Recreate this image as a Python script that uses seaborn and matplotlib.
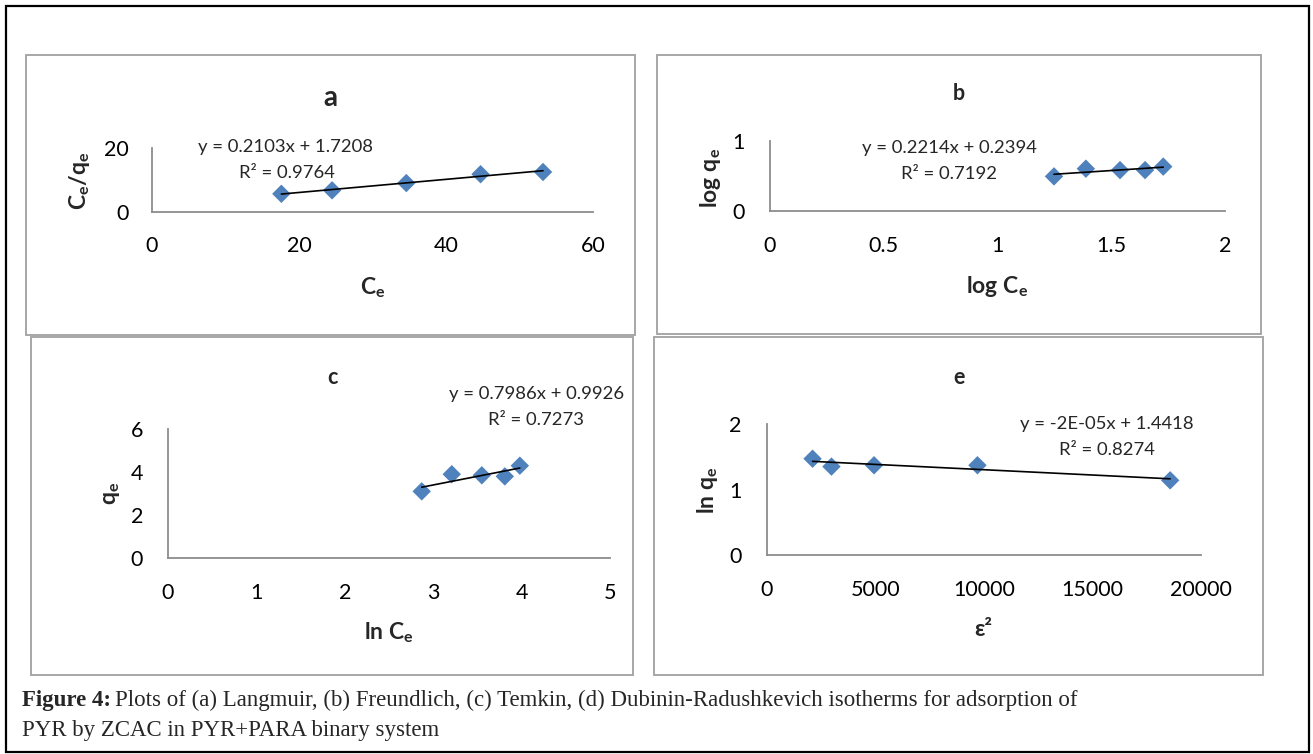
import numpy as np
import pandas as pd
import matplotlib
matplotlib.use("Agg")
import matplotlib.pyplot as plt
from matplotlib.patches import Rectangle
import seaborn as sns

# ---------------- data ----------------
a_ce = [17.6, 24.5, 34.6, 44.7, 53.2]
a_ce_qe = [5.6, 6.7, 9.0, 11.8, 12.5]

b_log_ce = [1.25, 1.39, 1.54, 1.65, 1.73]
b_log_qe = [0.49, 0.60, 0.58, 0.58, 0.63]

c_ln_ce = [2.87, 3.21, 3.55, 3.81, 3.98]
c_qe = [3.1, 3.9, 3.85, 3.8, 4.3]

e_eps2 = [2120, 2990, 4950, 9710, 18580]
e_ln_qe = [1.47, 1.35, 1.37, 1.37, 1.14]

a_xticks = [0, 20, 40, 60]
a_yticks = [0, 20]
b_xticks = [0, 0.5, 1, 1.5, 2]
b_yticks = [0, 1]
c_xticks = [0, 1, 2, 3, 4, 5]
c_yticks = [0, 2, 4, 6]
e_xticks = [0, 5000, 10000, 15000, 20000]
e_yticks = [0, 1, 2]

titles = ["a", "b", "c", "e"]
equations = [("y = 0.2103x + 1.7208", "R² = 0.9764"),
             ("y = 0.2214x + 0.2394", "R² = 0.7192"),
             ("y = 0.7986x + 0.9926", "R² = 0.7273"),
             ("y = -2E-05x + 1.4418", "R² = 0.8274")]
xlabels = [r"$\mathbf{C_e}$", r"$\mathbf{log\ C_e}$", r"$\mathbf{ln\ C_e}$", "ε²"]
ylabels = [r"$\mathbf{C_e/q_e}$", r"$\mathbf{log\ q_e}$", r"$\mathbf{q_e}$", r"$\mathbf{ln\ q_e}$"]
caption_bold = "Figure 4:"
caption_1 = "Plots of (a) Langmuir, (b) Freundlich, (c) Temkin, (d) Dubinin-Radushkevich isotherms for adsorption of"
caption_2 = "PYR by ZCAC in PYR+PARA binary system"

# ---------------- style ----------------
sns.set_theme(style="white")
plt.rcParams["font.family"] = ["Lato", "DejaVu Sans"]
plt.rcParams["mathtext.fontset"] = "custom"
plt.rcParams["mathtext.rm"] = "Lato"
plt.rcParams["mathtext.bf"] = "Lato:bold"
plt.rcParams["mathtext.it"] = "Lato:italic"
plt.rcParams["mathtext.sf"] = "Lato"

W, H = 1313, 754
fig = plt.figure(figsize=(W / 100, H / 100), dpi=100)
fig.patch.set_facecolor("white")


def fx(px):
    return px / W


def fy(py):
    return 1 - py / H


def add_box(x0, y0, x1, y1, color, lw):
    fig.add_artist(Rectangle((fx(x0), fy(y1)), fx(x1) - fx(x0), fy(y0) - fy(y1),
                             transform=fig.transFigure, fill=False,
                             edgecolor=color, linewidth=lw))


# outer border
add_box(6, 6, 1309, 752, "black", 1.6)

BLUE = "#4F81BD"
GRAY = "#8C8C8C"
BOXGRAY = "#A0A0A0"

panels = [
    dict(box=(26, 55, 635, 335), ax=(152, 593, 211.5, 148.3),
         x=a_ce, y=a_ce_qe, xt=a_xticks, yt=a_yticks, ticks=True,
         title_y=98, title_size=20,
         eq=(286, 147, 287, 173), xl=(372.5, 288), yl=(80, 181)),
    dict(box=(657, 55, 1261, 334), ax=(769.5, 1224.7, 210.7, 140.7),
         x=b_log_ce, y=b_log_qe, xt=b_xticks, yt=b_yticks, ticks=False,
         title_y=93, title_size=15.5,
         eq=(949, 148, 949, 174), xl=(997, 287), yl=(711, 178)),
    dict(box=(31, 337, 633, 675), ax=(168, 610, 557.7, 429.3),
         x=c_ln_ce, y=c_qe, xt=c_xticks, yt=c_yticks, ticks=False,
         title_y=377, title_size=15.5,
         eq=(536.5, 394, 536, 420), xl=(389, 633), yl=(111, 493)),
    dict(box=(654, 337, 1263, 675), ax=(766.5, 1201, 555, 424),
         x=e_eps2, y=e_ln_qe, xt=e_xticks, yt=e_yticks, ticks=False,
         title_y=377, title_size=15.5,
         eq=(1107, 424, 1106.5, 450), xl=(983.7, 630), yl=(707, 490)),
]

for i, p in enumerate(panels):
    bx0, by0, bx1, by1 = p["box"]
    add_box(bx0, by0, bx1, by1, BOXGRAY, 1.3)
    x0, x1, y0, y1 = p["ax"]
    ax = fig.add_axes([fx(x0), fy(y0), fx(x1) - fx(x0), fy(y1) - fy(y0)])
    ax.set_facecolor("none")
    df = pd.DataFrame({"x": p["x"], "y": p["y"]})
    sns.regplot(data=df, x="x", y="y", ax=ax, ci=None, marker="D",
                scatter_kws=dict(s=88, color=BLUE, edgecolors="none", alpha=1, clip_on=False),
                line_kws=dict(color="black", lw=1.2))
    ax.set_xlim(p["xt"][0], p["xt"][-1])
    ax.set_ylim(p["yt"][0], p["yt"][-1])
    ax.set_xticks(p["xt"])
    ax.set_yticks(p["yt"])
    ax.set_xticklabels([f"{v:g}" for v in p["xt"]])
    ax.set_yticklabels([f"{v:g}" for v in p["yt"]])
    for s in ["top", "right"]:
        ax.spines[s].set_visible(False)
    for s in ["left", "bottom"]:
        ax.spines[s].set_color(GRAY)
        ax.spines[s].set_linewidth(1.3)
    if p["ticks"]:
        ax.tick_params(axis="both", direction="out", length=5, width=1.1, color=GRAY,
                       labelsize=15.5, labelcolor="black")
        ax.tick_params(axis="x", pad=13)
        ax.tick_params(axis="y", pad=12)
    else:
        ax.tick_params(axis="both", length=0, labelsize=15.5, labelcolor="black")
        ax.tick_params(axis="x", pad=18)
        ax.tick_params(axis="y", pad=18)
    ax.grid(False)
    # axis labels
    ax.set_xlabel(xlabels[i], fontsize=16.5, fontweight="bold",
                  family=["Lato", "DejaVu Sans"])
    ax.set_ylabel(ylabels[i], fontsize=16.5, fontweight="bold")
    ax.xaxis.set_label_coords(fx(p["xl"][0]), fy(p["xl"][1]), transform=fig.transFigure)
    ax.yaxis.set_label_coords(fx(p["yl"][0]), fy(p["yl"][1]), transform=fig.transFigure)
    ax.xaxis.label.set_va("center")
    ax.yaxis.label.set_va("center")
    ax.yaxis.label.set_ha("center")
    # title
    fig.text(fx((bx0 + bx1) / 2), fy(p["title_y"]), titles[i], fontsize=p["title_size"],
             fontweight="bold", ha="center", va="center")
    # equation
    ex1, ey1, ex2, ey2 = p["eq"]
    fig.text(fx(ex1), fy(ey1), equations[i][0], fontsize=13.3, ha="center", va="center")
    fig.text(fx(ex2), fy(ey2), equations[i][1], fontsize=13.3, ha="center", va="center")

# caption
CAP_SIZE = 16.5
t1 = fig.text(fx(22), fy(706), caption_bold, fontsize=CAP_SIZE, fontweight="bold",
              family="Liberation Serif", ha="left", va="baseline")
renderer = fig.canvas.get_renderer()
bb = t1.get_window_extent(renderer=renderer)
fig.text(bb.x1 / W + fx(4), fy(706), caption_1, fontsize=CAP_SIZE,
         family="Liberation Serif", ha="left", va="baseline")
fig.text(fx(22), fy(736), caption_2, fontsize=CAP_SIZE,
         family="Liberation Serif", ha="left", va="baseline")

fig.savefig("out.png", dpi=100)
